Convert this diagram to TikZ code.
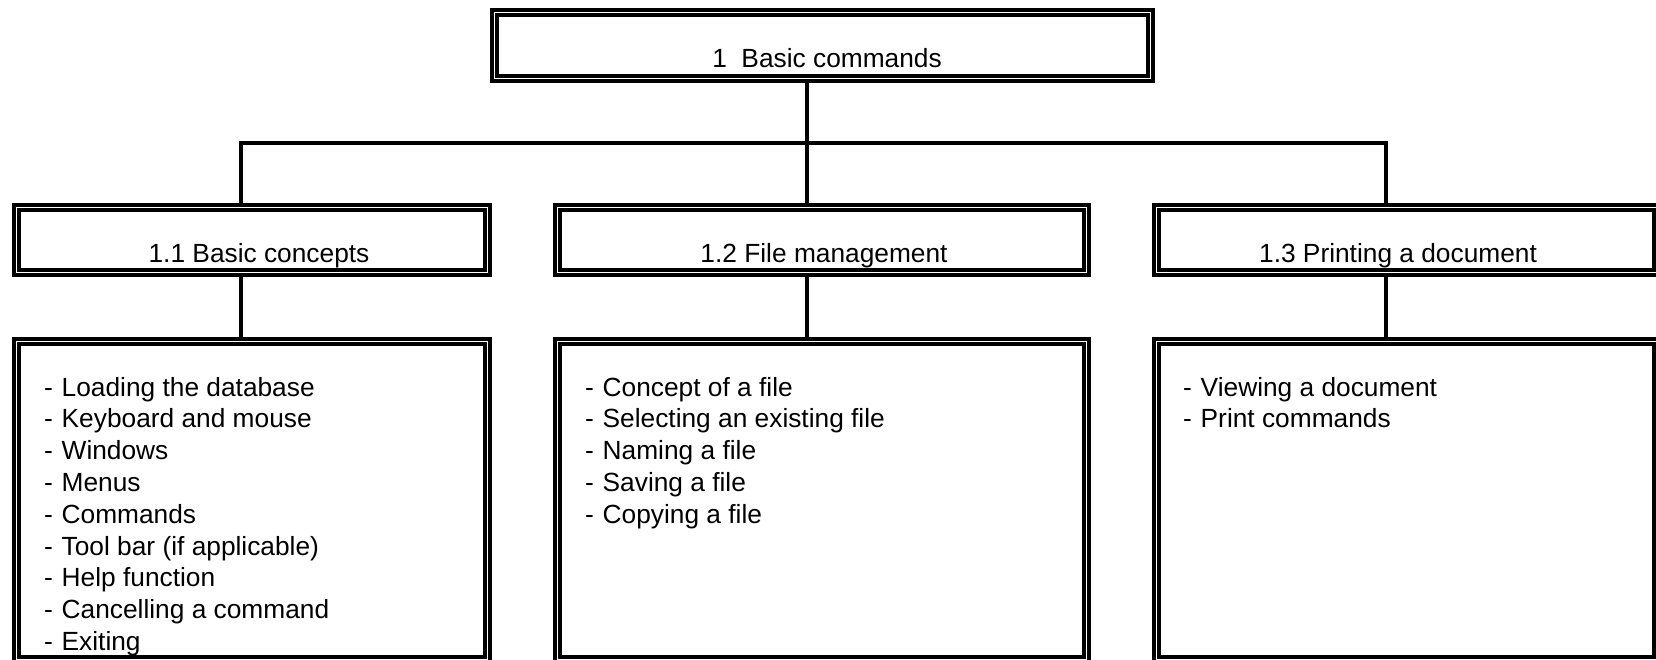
\documentclass[tikz,border=0pt]{standalone}
\usepackage{fontspec}
\setmainfont{Liberation Sans}
\newcommand\listline[1]{\makebox[17.5pt][l]{-}#1}
\begin{document}
\begin{tikzpicture}[x=1pt,y=-1pt,
  dbox/.style={rectangle, draw=black, line width=3.7pt, double=white, double distance=1.2pt, inner sep=0pt, outer sep=4.3pt},
  conn/.style={draw=black, line width=4pt},
  lbl/.style={font=\fontsize{26.3pt}{31.8pt}\selectfont, inner sep=0pt, anchor=base},
  lst/.style={font=\fontsize{26.3pt}{31.8pt}\selectfont, inner sep=0pt, anchor=base west}]
\useasboundingbox (0,0) rectangle (1656,660);
\clip (0,0) rectangle (1656,660);

% boxes
\node[dbox, minimum width=656.4pt, minimum height=66.4pt] (top) at (822.5,45.5) {};
\node[dbox, minimum width=471.4pt, minimum height=65.4pt] (b11) at (252,240) {};
\node[dbox, minimum width=529.4pt, minimum height=65.4pt] (b12) at (822,240) {};
\node[dbox, minimum width=500.4pt, minimum height=65.4pt] (b13) at (1406.5,240) {};
\node[dbox, minimum width=471.4pt, minimum height=318.4pt] (c11) at (252,500.5) {};
\node[dbox, minimum width=529.4pt, minimum height=318.4pt] (c12) at (822,500.5) {};
\node[dbox, minimum width=500.4pt, minimum height=318.4pt] (c13) at (1406.5,500.5) {};

% labels
\node[lbl] (t0) at (827,68) {1\ \ Basic commands};
\node[lbl] (t11) at (259,262) {1.1 Basic concepts};
\node[lbl] (t12) at (824,262) {1.2 File management};
\node[lbl] (t13) at (1398,262) {1.3 Printing a document};

% lists
\node[lst] (l11) at (44,396) {\begin{tabular}[t]{@{}l@{}}
\listline{Loading the database}\\
\listline{Keyboard and mouse}\\
\listline{Windows}\\
\listline{Menus}\\
\listline{Commands}\\
\listline{Tool bar (if applicable)}\\
\listline{Help function}\\
\listline{Cancelling a command}\\
\listline{Exiting}
\end{tabular}};
\node[lst] (l12) at (585,396) {\begin{tabular}[t]{@{}l@{}}
\listline{Concept of a file}\\
\listline{Selecting an existing file}\\
\listline{Naming a file}\\
\listline{Saving a file}\\
\listline{Copying a file}
\end{tabular}};
\node[lst] (l13) at (1183,396) {\begin{tabular}[t]{@{}l@{}}
\listline{Viewing a document}\\
\listline{Print commands}
\end{tabular}};

% connectors
\coordinate (hub) at (807,143);
\coordinate (busL) at (241,143);
\coordinate (busR) at (1386,143);
\draw[conn] (top.south -| hub) -- (b12.north -| hub);
\draw[conn] (b11.north -| busL) -- (busL) -- (busR) -- (b13.north -| busR);
\draw[conn] (b11.south -| busL) -- (c11.north -| busL);
\draw[conn] (b12.south -| hub) -- (c12.north -| hub);
\draw[conn] (b13.south -| busR) -- (c13.north -| busR);
\end{tikzpicture}
\end{document}
